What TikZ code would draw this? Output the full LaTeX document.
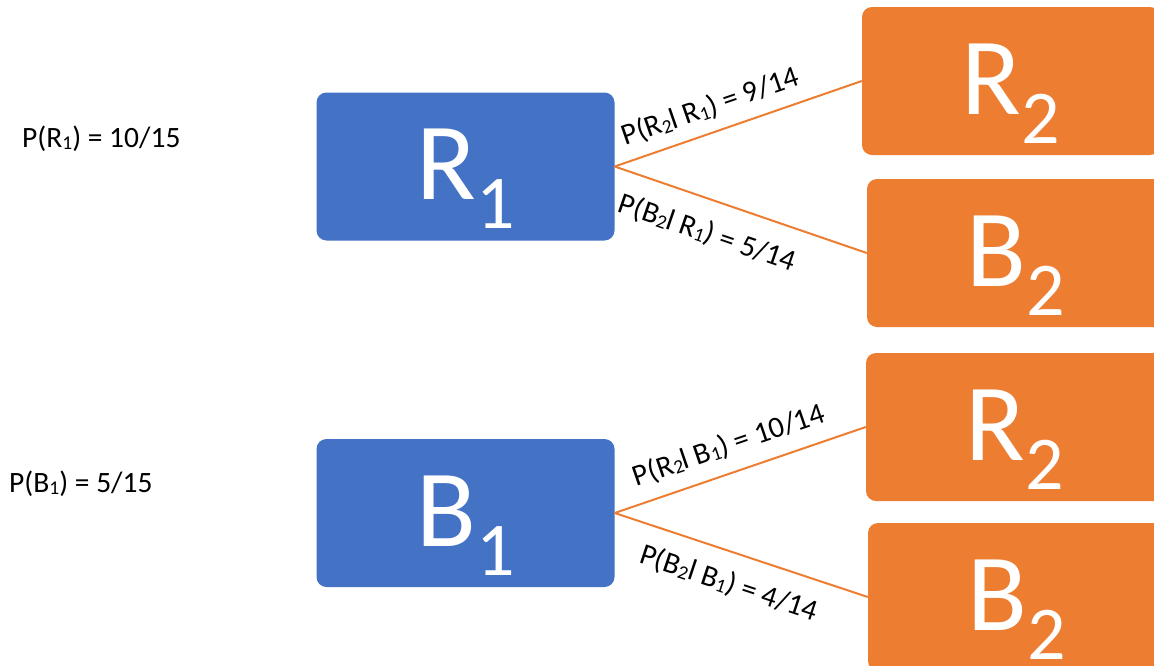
\documentclass[tikz,border=0pt]{standalone}
\usepackage{fontspec}
\setmainfont{Carlito}
\definecolor{boxblue}{HTML}{4472C4}
\definecolor{boxorange}{HTML}{ED7D31}
\newcommand{\bigsub}[1]{\raisebox{-29pt}{\fontsize{76}{76}\selectfont #1}}
\newcommand{\lsub}[1]{\raisebox{-2pt}{\fontsize{19.5}{19.5}\selectfont #1}}
\begin{document}
\begin{tikzpicture}[x=1pt,y=-1pt,
  box/.style={rounded corners=10pt, minimum width=298pt, minimum height=148pt, inner sep=0pt,
    text=white, font=\fontsize{110}{110}\selectfont, text height=95pt, text depth=29pt, anchor=center},
  bluebox/.style={box, fill=boxblue},
  orangebox/.style={box, fill=boxorange},
  link/.style={draw=boxorange, line width=2pt},
  plabel/.style={font=\fontsize{30}{30}\selectfont, sloped, inner xsep=2pt},
  prior/.style={anchor=base west, font=\fontsize{29.5}{29.5}\selectfont, inner sep=0pt}
]
\useasboundingbox (0,0) rectangle (1154,665);
\clip (0,0) rectangle (1154,665);

\node[bluebox] (R1) at (465.5,166.5) {R\bigsub{1}};
\node[bluebox] (B1) at (465.5,513) {B\bigsub{1}};
\node[orangebox] (R2a) at (1011,81) {R\bigsub{2}};
\node[orangebox] (B2a) at (1016,253) {B\bigsub{2}};
\node[orangebox] (R2b) at (1015,427) {R\bigsub{2}};
\node[orangebox] (B2b) at (1017,597) {B\bigsub{2}};

\node[prior] (pr1) at (22,147) {P(R\lsub{1}) = 10/15};
\node[prior] (pb1) at (9,492) {P(B\lsub{1}) = 5/15};

\draw[link] (R1.east) -- node[plabel, above, inner ysep=11pt, pos=0.42] {P(R\lsub{2}l R\lsub{1}) = 9/14} (R2a.west);
\draw[link] (R1.east) -- node[plabel, below, inner ysep=19pt, pos=0.41] {P(B\lsub{2}l R\lsub{1}) = 5/14} (B2a.west);
\draw[link] (B1.east) -- node[plabel, above, inner ysep=13pt, pos=0.49] {P(R\lsub{2}l B\lsub{1}) = 10/14} (R2b.west);
\draw[link] (B1.east) -- node[plabel, below, inner ysep=17pt, pos=0.49] {P(B\lsub{2}l B\lsub{1}) = 4/14} (B2b.west);
\end{tikzpicture}
\end{document}
